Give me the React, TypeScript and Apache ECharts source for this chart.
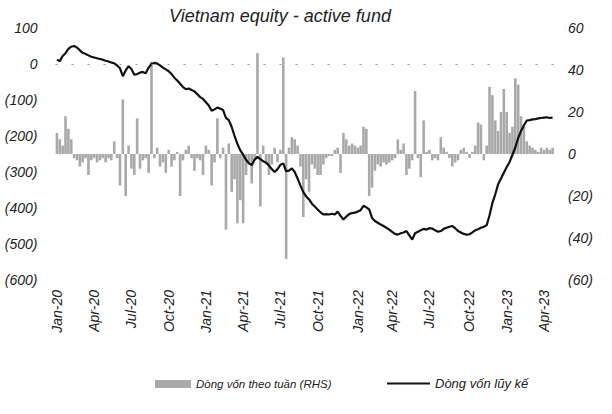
import React, { useEffect, useRef } from "react";
import * as echarts from "echarts";

const startDate = "2020-01-03";

const cumulativeFlow: number[] = [
  12, 8, 22, 30, 42, 48, 50, 46, 38, 31,
  28, 24, 20, 18, 16, 14, 12, 9, 7, 4,
  2, -4, -12, -34, -18, -6, -14, -30, -28, -24,
  -22, -26, -10, 0, 3, 1, -4, -10, -15, -20,
  -28, -38, -46, -55, -64, -70, -68, -72, -76, -84,
  -92, -97, -106, -115, -130, -126, -121, -124, -128, -150,
  -156, -175, -200, -222, -240, -252, -266, -276, -281, -266,
  -258, -264, -270, -274, -282, -292, -300, -292, -280, -276,
  -298, -296, -290, -300, -318, -338, -356, -368, -376, -388,
  -396, -404, -412, -418, -417, -418, -416, -418, -410, -422,
  -432, -424, -417, -414, -413, -410, -406, -394, -398, -404,
  -428, -436, -441, -446, -450, -455, -460, -466, -472, -474,
  -470, -468, -464, -476, -488, -470, -466, -462, -458, -460,
  -456, -457, -462, -466, -464, -458, -455, -452, -450, -456,
  -464, -468, -472, -474, -473, -468, -462, -459, -455, -452,
  -448, -420, -386, -362, -334, -318, -302, -286, -272, -252,
  -232, -206, -186, -170, -157, -156, -154, -153, -151, -150,
  -149, -148, -150, -149,
];

const weeklyFlow: number[] = [
  10, 7, 4, 18, 12, 7, -2, -3, -6, -4,
  -2, -10, -3, -2, -4, -3, -2, -4, -2, -3,
  6, -2, -15, 26, -20, 4, -7, -10, 17, -7,
  -3, -2, -9, 44, -2, 3, -6, -4, -9, 2,
  -6, -3, 1, -20, -3, 2, 4, -2, -8, -2,
  -3, -10, 4, 2, -15, -4, 17, -2, 3, -36,
  5, -18, -12, -33, -22, -33, -10, -5, -14, -3,
  48, -25, 4, -5, -10, -5, 3, -4, 2, 46,
  -50, 3, 8, 7, 4, -6, -30, -12, -18, -5,
  -7, -10, -10, -5, -2, -1, -1, 2, 3, -9,
  10, 7, 4, 5, 4, 3, 4, 13, 12, -20,
  -16, -8, -5, -6, -4, -5, -4, -3, -2, 7,
  2, 5, -10, -7, -3, 30, -2, -11, 16, 1,
  2, -3, -2, -3, 8, 3, 1, -2, -6, -4,
  -3, 2, 3, 1, -2, 1, 4, 15, 14, -3,
  4, 32, 28, 16, 11, 20, 31, 20, 10, 13,
  36, 33, 18, 13, 6, 4, 3, 2, 1, 3,
  2, 3, 2, 3,
];

const leftTicks = { min: -600, max: 100, interval: 100 };
const rightTicks = { min: -60, max: 60, interval: 20 };
const quarterMonths = [0, 3, 6, 9];
const monthNames = ["Jan", "Feb", "Mar", "Apr", "May", "Jun", "Jul", "Aug", "Sep", "Oct", "Nov", "Dec"];

const seriesNames = ["Dòng vốn theo tuần (RHS)", "Dòng vốn lũy kế"];
const titleText = "Vietnam equity - active fund";

const FONT = '"Liberation Sans", Arial, sans-serif';

function buildWeeks(): Date[] {
  const d0 = new Date(startDate + "T00:00:00Z");
  return cumulativeFlow.map((_, i) => new Date(d0.getTime() + i * 7 * 86400000));
}

function fmtParen(v: number): string {
  if (v < 0) return "(" + Math.abs(v) + ")";
  return String(v);
}

export default function App() {
  const ref = useRef<HTMLDivElement>(null);
  useEffect(() => {
    if (!ref.current) return;
    const chart = echarts.init(ref.current, null, { renderer: "svg" });
    const weeks = buildWeeks();
    const cats = weeks.map(
      (d) => monthNames[d.getUTCMonth()] + "-" + String(d.getUTCFullYear()).slice(2)
    );
    const showIdx = new Set<number>();
    weeks.forEach((d, i) => {
      const m = d.getUTCMonth();
      const prev = i > 0 ? weeks[i - 1].getUTCMonth() : -1;
      if (quarterMonths.includes(m) && m !== prev) showIdx.add(i);
    });
    const labelStyle = {
      fontFamily: FONT,
      fontStyle: "italic" as const,
      fontSize: 14,
      color: "#222",
    };
    chart.setOption({
      animation: false,
      backgroundColor: "#fff",
      title: {
        text: titleText,
        left: 275,
        textAlign: "center",
        top: 2,
        textStyle: { fontFamily: FONT, fontStyle: "italic", fontWeight: "normal", fontSize: 18, color: "#222" },
      },
      grid: { left: 55.5, right: 58, top: 28, height: 252, containLabel: false },
      legend: [
        {
          left: 150,
          top: 373,
          itemWidth: 36,
          itemHeight: 8,
          itemGap: 4,
          textStyle: { ...labelStyle, fontSize: 11.5 },
          data: [{ name: seriesNames[0], icon: "rect" }],
        },
        {
          left: 382,
          top: 372,
          itemWidth: 43,
          itemHeight: 8,
          textStyle: { ...labelStyle, fontSize: 13 },
          data: [{ name: seriesNames[1], icon: "path://M0,0 H40 V2 H0 Z", itemStyle: { color: "#111" } }],
        },
      ],
      xAxis: {
        type: "category",
        data: cats,
        boundaryGap: true,
        axisLine: { show: false },
        axisTick: { show: false },
        axisLabel: {
          ...labelStyle,
          rotate: 90,
          margin: 10,
          interval: (i: number) => showIdx.has(i),
        },
      },
      yAxis: [
        {
          type: "value",
          ...leftTicks,
          position: "left",
          axisLine: { show: false },
          axisTick: { show: false },
          splitLine: { show: false },
          axisLabel: { ...labelStyle, margin: 18, formatter: (v: number) => fmtParen(v) },
        },
        {
          type: "value",
          ...rightTicks,
          position: "right",
          axisLine: { show: false },
          axisTick: { show: false },
          splitLine: { show: false },
          axisLabel: { ...labelStyle, margin: 14, formatter: (v: number) => fmtParen(v) },
        },
      ],
      series: [
        {
          name: seriesNames[0],
          type: "bar",
          yAxisIndex: 1,
          data: weeklyFlow,
          barWidth: 2.6,
          itemStyle: { color: "#a9a9a9" },
          z: 2,
        },
        {
          name: seriesNames[1],
          type: "line",
          yAxisIndex: 0,
          data: cumulativeFlow,
          showSymbol: false,
          symbol: "none",
          lineStyle: { color: "#111", width: 2.2 },
          itemStyle: { color: "#111" },
          z: 3,
          markLine: {
            silent: true,
            symbol: "none",
            label: { show: false },
            lineStyle: { color: "#999", type: [2, 14], width: 1 },
            data: [{ yAxis: 0 }],
          },
        },
      ],
    });
    return () => chart.dispose();
  }, []);
  return (
    <div
      ref={ref}
      style={{ position: "fixed", left: 0, top: 0, width: 612, height: 414 }}
    />
  );
}
